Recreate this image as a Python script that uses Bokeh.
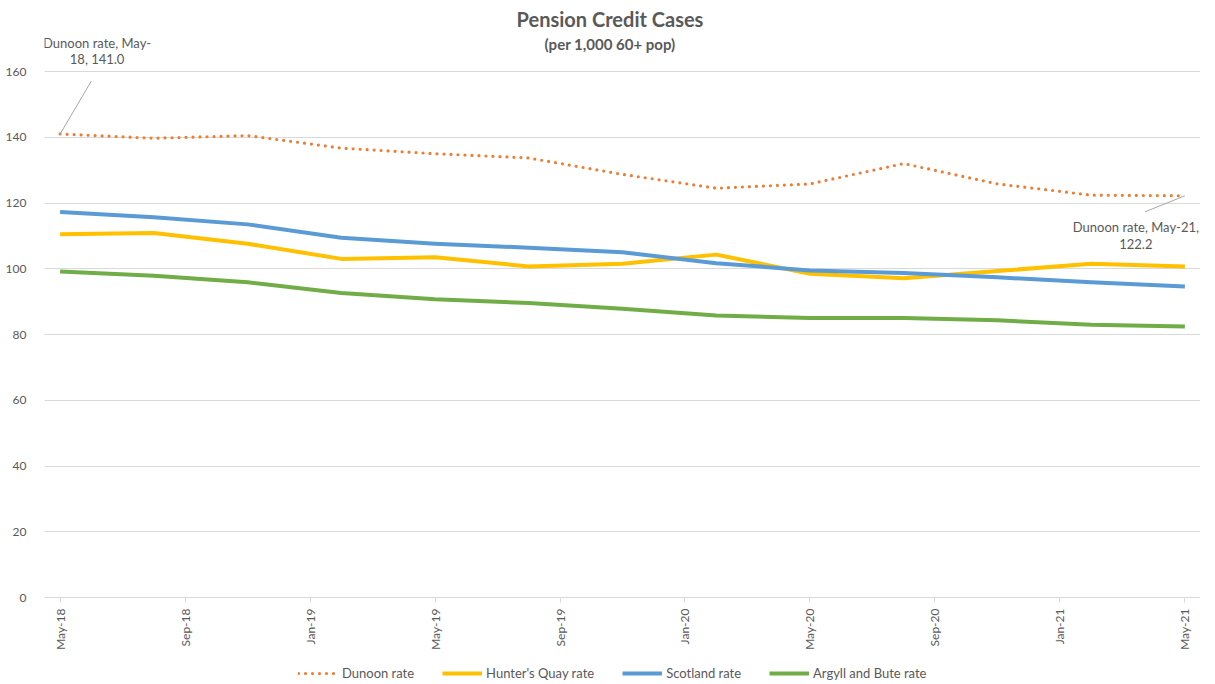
import math
import pandas as pd
from bokeh.plotting import figure
from bokeh.layouts import column
from bokeh.models import Range1d, FixedTicker, Legend, LegendItem, Label
from bokeh.embed import file_html
from bokeh.resources import INLINE

# ---- data ----
periods = ["May-18", "Aug-18", "Nov-18", "Feb-19", "May-19", "Aug-19", "Nov-19",
           "Feb-20", "May-20", "Aug-20", "Nov-20", "Feb-21", "May-21"]
dunoon = [141.0, 139.7, 140.5, 136.7, 135.0, 133.7, 128.7, 124.5, 125.8, 132.0, 125.8, 122.4, 122.2]
hunters = [110.5, 110.9, 107.6, 103.0, 103.5, 100.7, 101.5, 104.3, 98.5, 97.1, 99.3, 101.5, 100.7]
scotland = [117.3, 115.7, 113.5, 109.4, 107.6, 106.4, 105.0, 101.7, 99.5, 98.7, 97.4, 95.9, 94.6]
argyll = [99.2, 97.9, 95.9, 92.6, 90.7, 89.6, 87.8, 85.8, 85.0, 85.0, 84.3, 83.0, 82.4]
tick_labels = ["May-18", "Sep-18", "Jan-19", "May-19", "Sep-19", "Jan-20",
               "May-20", "Sep-20", "Jan-21", "May-21"]
y_ticks = [0, 20, 40, 60, 80, 100, 120, 140, 160]
series_names = ["Dunoon rate", "Hunter's Quay rate", "Scotland rate", "Argyll and Bute rate"]
series = [dunoon, hunters, scotland, argyll]


def midx(s):
    d = pd.to_datetime(s, format="%b-%y")
    return (d.year - 2018) * 12 + d.month - 5


x = [midx(s) for s in periods]
tick_pos = [midx(s) for s in tick_labels]

FONT = "Lato"
GREY = "#595959"
styles = [dict(line_color="#ED7D31", line_width=3.2, line_dash="0 7", line_cap="round"),
          dict(line_color="#FFC000", line_width=4, line_join="round"),
          dict(line_color="#5B9BD5", line_width=4, line_join="round"),
          dict(line_color="#70AD47", line_width=4, line_join="round")]

# frame extends to the top of the canvas so the title & callout live inside it
p = figure(width=1200, height=655, output_backend="svg", toolbar_location=None,
           x_range=Range1d(-0.5, 36.5), y_range=Range1d(0, 181.6),
           min_border_left=44, min_border_right=0, min_border_top=0, min_border_bottom=58,
           title=None)
p.outline_line_color = None
p.background_fill_color = "white"
p.border_fill_color = "white"

p.xgrid.grid_line_color = None
p.ygrid.grid_line_color = "#d9d9d9"
p.ygrid.ticker = FixedTicker(ticks=y_ticks)

p.yaxis.ticker = FixedTicker(ticks=y_ticks)
p.yaxis.axis_line_color = None
p.yaxis.major_tick_line_color = None
p.yaxis.minor_tick_line_color = None
p.yaxis.major_label_standoff = 12
p.yaxis.major_label_text_font = FONT
p.yaxis.major_label_text_font_size = "12px"
p.yaxis.major_label_text_color = GREY

p.xaxis.ticker = FixedTicker(ticks=tick_pos)
p.xaxis.major_label_overrides = {t: l for t, l in zip(tick_pos, tick_labels)}
p.xaxis.major_label_orientation = math.pi / 2
p.xaxis.axis_line_color = "#d9d9d9"
p.xaxis.major_tick_line_color = "#d9d9d9"
p.xaxis.major_tick_in = 0
p.xaxis.major_tick_out = 5
p.xaxis.minor_tick_line_color = None
p.xaxis.major_label_standoff = 6
p.xaxis.major_label_text_font = FONT
p.xaxis.major_label_text_font_size = "12px"
p.xaxis.major_label_text_color = GREY

for vals, st in zip(series, styles):
    p.line(x, vals, **st)

# data callouts
p.segment(x0=[x[0]], y0=[dunoon[0]], x1=[x[0] + 1.0], y1=[dunoon[0] + 16.1],
          line_color="#a6a6a6", line_width=1)
p.segment(x0=[x[-1]], y0=[dunoon[-1]], x1=[x[-1] - 1.28], y1=[dunoon[-1] - 4.9],
          line_color="#a6a6a6", line_width=1)
p.add_layout(Label(x=x[0], y=dunoon[0], x_offset=37, y_offset=83,
                   text=f"Dunoon rate, {periods[0][:4]}\n{periods[0][4:]}, {dunoon[0]:.1f}",
                   text_align="center", text_baseline="middle", text_font=FONT,
                   text_font_size="13px", text_color=GREY, text_line_height=1.05))
p.add_layout(Label(x=x[-1], y=dunoon[-1], x_offset=-49, y_offset=-40,
                   text=f"Dunoon rate, {periods[-1]},\n{dunoon[-1]:.1f}",
                   text_align="center", text_baseline="middle", text_font=FONT,
                   text_font_size="13px", text_color=GREY, text_line_height=1.05))

# titles
p.add_layout(Label(x=17.6, y=176.1, text="Pension Credit Cases", text_align="center",
                   text_baseline="middle", text_font=FONT, text_font_style="bold",
                   text_font_size="20px", text_color=GREY))
p.add_layout(Label(x=17.6, y=168.5, text="(per 1,000 60+ pop)", text_align="center",
                   text_baseline="middle", text_font=FONT, text_font_style="bold",
                   text_font_size="15px", text_color=GREY))

# legend strip (its lines sit outside the strip's range, only the legend shows)
lf = figure(width=1200, height=29, output_backend="svg", toolbar_location=None,
            x_range=Range1d(-0.5, 36.5), y_range=Range1d(1000, 1001),
            x_axis_location=None, y_axis_location=None, title=None,
            min_border_left=0, min_border_right=0, min_border_top=0, min_border_bottom=0)
lf.outline_line_color = None
lf.grid.grid_line_color = None
lrs = [lf.line(x, vals, **st) for vals, st in zip(series, styles)]
legend = Legend(items=[LegendItem(label=n, renderers=[r]) for n, r in zip(series_names, lrs)],
                orientation="horizontal", location=(254, 3),
                glyph_width=40, glyph_height=14, label_standoff=4, spacing=28,
                padding=0, margin=0, border_line_alpha=0, background_fill_alpha=0,
                label_text_font=FONT, label_text_font_size="13px", label_text_color=GREY)
lf.add_layout(legend)

open("out.html", "w").write(file_html(column(p, lf, spacing=0), INLINE))
